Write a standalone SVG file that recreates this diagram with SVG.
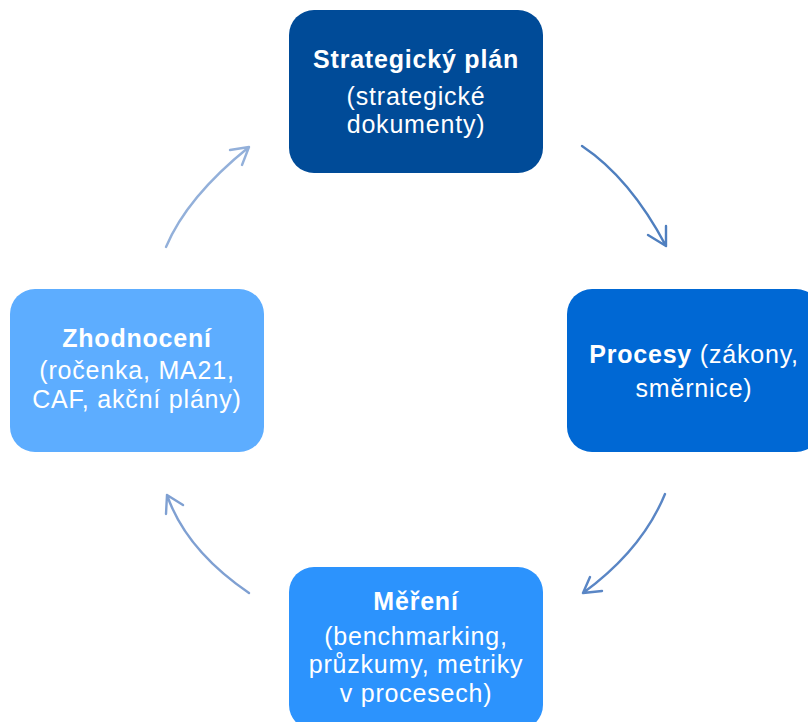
<svg xmlns="http://www.w3.org/2000/svg" width="808" height="722" viewBox="0 0 808 722">
<style>
.box{stroke:none}
.t{font-family:"Liberation Sans",Arial,sans-serif;font-size:25px;letter-spacing:0.8px;fill:#ffffff;text-anchor:middle}
.b{font-weight:bold}
.arr{fill:none;stroke-width:2.4;stroke-linecap:round;stroke-linejoin:round}
</style>
<rect width="808" height="722" fill="#ffffff"/>
<g id="connectors">
<path class="arr" stroke="#4F7FBF" d="M582,146 Q630,178 666,246 M648,235 L666,246 L666,226"/>
<path class="arr" stroke="#5A86C5" d="M665,494 Q642,550 583,593 M590,577 L583,593 L602,591"/>
<path class="arr" stroke="#7FA0D2" d="M249,593 Q186,550 167,495 M166,514 L167,495 L183,505"/>
<path class="arr" stroke="#93B0DA" d="M166,247 Q187,197 249,147 M230,150 L249,147 L242,165"/>
</g>
<g id="node-strategicky-plan">
<rect class="box" x="289" y="10" width="254" height="163" rx="25" fill="#004B98"/>
<text class="t"><tspan class="b" x="416" y="68">Strategický plán</tspan><tspan x="416" y="105">(strategické</tspan><tspan x="416" y="133">dokumenty)</tspan></text>
</g>
<g id="node-procesy">
<rect class="box" x="567" y="289" width="254" height="163" rx="25" fill="#0068D4"/>
<text class="t"><tspan x="694" y="363"><tspan class="b">Procesy</tspan> (zákony,</tspan><tspan x="694" y="397">směrnice)</tspan></text>
</g>
<g id="node-mereni">
<rect class="box" x="289" y="567" width="254" height="163" rx="25" fill="#2C93FD"/>
<text class="t"><tspan class="b" x="416" y="610">Měření</tspan><tspan x="416" y="645">(benchmarking,</tspan><tspan x="416" y="673">průzkumy, metriky</tspan><tspan x="416" y="702">v procesech)</tspan></text>
</g>
<g id="node-zhodnoceni">
<rect class="box" x="10" y="289" width="254" height="163" rx="25" fill="#5DADFF"/>
<text class="t"><tspan class="b" x="137" y="347">Zhodnocení</tspan><tspan x="137" y="379">(ročenka, MA21,</tspan><tspan x="137" y="408">CAF, akční plány)</tspan></text>
</g>
</svg>
